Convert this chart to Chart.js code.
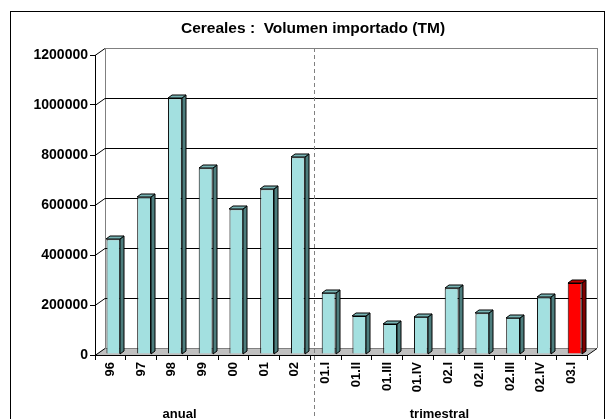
<!DOCTYPE html>
<html lang="es">
  <head>
    <meta charset="UTF-8" />
    <title>Cereales : Volumen importado (TM)</title>
    <script src="https://cdn.jsdelivr.net/npm/chart.js"></script>
    <style>
      html, body { margin: 0; padding: 0; background: #fff; }
    </style>
  </head>
  <body>
    <canvas id="chart" width="609" height="419"></canvas>
    <script>
      // datos
      const categories = ["96", "97", "98", "99", "00", "01", "02",
        "01.I", "01.II", "01.III", "01.IV", "02.I", "02.II", "02.III", "02.IV", "03.I"];
      const volumen = [459000, 627000, 1023000, 743000, 579000, 659000, 787000,
        245000, 152000, 120000, 149000, 263000, 163000, 145000, 227000, 284000];
      const yTicks = [0, 200000, 400000, 600000, 800000, 1000000, 1200000];
      const groupLabels = ["anual", "trimestral"];
      const titleText = "Cereales :  Volumen importado (TM)";

      const FONT = '"Liberation Sans", Arial, sans-serif';
      // profundidad 3D (pared y barras)
      const DX = 10, DY = 7;
      const BX = 4, BY = 3;

      const faceColors = categories.map((c, i) => i === categories.length - 1 ? "#ff0000" : "#a3e0e0");
      const topColors = categories.map((c, i) => i === categories.length - 1 ? "#c00000" : "#78b4b4");
      const sideColors = categories.map((c, i) => i === categories.length - 1 ? "#800000" : "#4d7d7d");

      const excel3d = {
        id: "excel3d",
        beforeDraw(chart) {
          const { ctx, chartArea: a, scales } = chart;
          const y = scales.y, x = scales.x;
          ctx.save();
          ctx.fillStyle = "#fff";
          ctx.fillRect(0, 0, chart.width, chart.height);
          // borde exterior
          ctx.strokeStyle = "#000";
          ctx.lineWidth = 1;
          ctx.strokeRect(10.5, 11.5, 594, 430);
          // titulo
          ctx.fillStyle = "#000";
          ctx.font = "bold 15.5px " + FONT;
          ctx.textAlign = "center";
          ctx.textBaseline = "alphabetic";
          ctx.fillText(titleText, 313, 33);

          // suelo
          ctx.fillStyle = "#c0c0c0";
          ctx.beginPath();
          ctx.moveTo(a.left, a.bottom);
          ctx.lineTo(a.right, a.bottom);
          ctx.lineTo(a.right + DX, a.bottom - DY);
          ctx.lineTo(a.left + DX, a.bottom - DY);
          ctx.closePath();
          ctx.fill();
          ctx.strokeStyle = "#808080";
          ctx.beginPath();
          ctx.moveTo(a.left + DX, a.bottom - DY + 0.5);
          ctx.lineTo(a.right + DX, a.bottom - DY + 0.5);
          ctx.stroke();
          ctx.strokeStyle = "#000";
          ctx.beginPath();
          ctx.moveTo(a.right, a.bottom + 0.5);
          ctx.lineTo(a.right + DX, a.bottom - DY + 0.5);
          ctx.stroke();

          // pared del fondo
          ctx.strokeStyle = "#808080";
          ctx.beginPath();
          ctx.moveTo(a.left + DX + 0.5, a.bottom - DY);
          ctx.lineTo(a.left + DX + 0.5, a.top - DY);
          ctx.moveTo(a.right + DX + 0.5, a.bottom - DY);
          ctx.lineTo(a.right + DX + 0.5, a.top - DY);
          ctx.stroke();

          // lineas de division
          yTicks.forEach((v) => {
            const py = Math.round(y.getPixelForValue(v)) + 0.5;
            ctx.strokeStyle = v === yTicks[yTicks.length - 1] ? "#808080" : "#000";
            if (v > 0) {
              ctx.beginPath();
              ctx.moveTo(a.left + DX, py - DY);
              ctx.lineTo(a.right + DX, py - DY);
              ctx.stroke();
            }
            ctx.strokeStyle = "#000";
            ctx.beginPath();
            ctx.moveTo(a.left, py);
            ctx.lineTo(a.left + DX, py - DY);
            ctx.stroke();
          });

          // separador anual / trimestral
          const sx = Math.round((x.getPixelForValue(6) + x.getPixelForValue(7)) / 2) + 4.5;
          ctx.strokeStyle = "#808080";
          ctx.setLineDash([4, 3]);
          ctx.beginPath();
          ctx.moveTo(sx, a.top - DY);
          ctx.lineTo(sx, chart.height);
          ctx.stroke();
          ctx.restore();
        },
        beforeDatasetsDraw(chart) {
          chart.ctx.save();
          chart.ctx.translate(3, -1);
        },
        afterDatasetsDraw(chart) {
          const ctx = chart.ctx;
          const meta = chart.getDatasetMeta(0);
          ctx.lineWidth = 1;
          ctx.strokeStyle = "#000";
          meta.data.forEach((bar, i) => {
            const l = Math.round(bar.x - bar.width / 2), r = Math.round(bar.x + bar.width / 2);
            const t = Math.round(bar.y), b = Math.round(bar.base);
            ctx.fillStyle = sideColors[i];
            ctx.beginPath();
            ctx.moveTo(r, t);
            ctx.lineTo(r + BX, t - BY);
            ctx.lineTo(r + BX, b - BY);
            ctx.lineTo(r, b);
            ctx.closePath();
            ctx.fill();
            ctx.stroke();
            ctx.fillStyle = topColors[i];
            ctx.beginPath();
            ctx.moveTo(l, t);
            ctx.lineTo(l + BX, t - BY);
            ctx.lineTo(r + BX, t - BY);
            ctx.lineTo(r, t);
            ctx.closePath();
            ctx.fill();
            ctx.stroke();
          });
          ctx.restore();
        },
        afterDraw(chart) {
          const { ctx, scales } = chart;
          ctx.save();
          ctx.fillStyle = "#000";
          ctx.font = "bold 13px " + FONT;
          ctx.textAlign = "center";
          ctx.textBaseline = "alphabetic";
          ctx.fillText(groupLabels[0], scales.x.getPixelForValue(2.25), 418);
          ctx.fillText(groupLabels[1], scales.x.getPixelForValue(10.7), 418);
          ctx.restore();
        },
      };

      new Chart(document.getElementById("chart"), {
        type: "bar",
        data: {
          labels: categories,
          datasets: [
            {
              label: "Volumen importado (TM)",
              data: volumen,
              backgroundColor: faceColors,
              borderColor: "#000",
              borderWidth: 1,
              barPercentage: 0.45,
              categoryPercentage: 1,
            },
          ],
        },
        options: {
          responsive: false,
          animation: false,
          layout: { padding: { left: 0, right: 22, top: 55, bottom: 0 } },
          plugins: {
            legend: { display: false },
            title: { display: false },
            tooltip: { enabled: false },
          },
          scales: {
            x: {
              afterFit: (s) => { s.height = 64; },
              border: { color: "#000" },
              grid: { drawOnChartArea: false, tickLength: 5, color: "#000", offset: true },
              ticks: {
                color: "#000",
                autoSkip: false,
                minRotation: 90,
                maxRotation: 90,
                padding: 2,
                font: { family: FONT, size: 13, weight: "bold" },
              },
            },
            y: {
              min: 0,
              max: 1200000,
              afterBuildTicks: (s) => { s.ticks = yTicks.map((v) => ({ value: v })); },
              afterFit: (s) => { s.width = 95; },
              border: { color: "#000" },
              grid: { drawOnChartArea: false, tickLength: 5, color: "#000" },
              ticks: {
                color: "#000",
                padding: 2,
                font: { family: FONT, size: 14, weight: "bold" },
                callback: (v) => String(v),
              },
            },
          },
        },
        plugins: [excel3d],
      });
    </script>
  </body>
</html>
